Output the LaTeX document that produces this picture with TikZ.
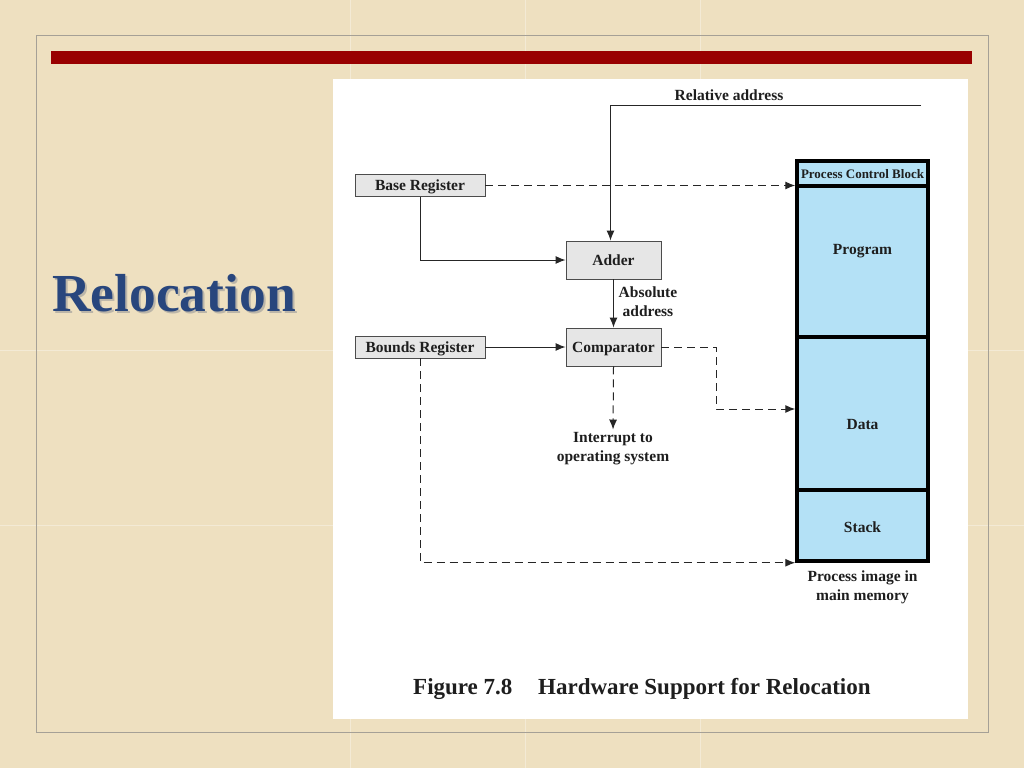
\documentclass[tikz,border=0pt]{standalone}
\usepackage{fontspec}
\setmainfont{Liberation Serif}
\usetikzlibrary{arrows.meta,calc}
\definecolor{parch}{RGB}{238,224,192}
\definecolor{framegray}{RGB}{165,160,150}
\definecolor{barred}{RGB}{153,0,0}
\definecolor{titleblue}{RGB}{40,70,125}
\definecolor{boxgray}{RGB}{230,230,230}
\definecolor{memblue}{RGB}{180,225,246}
\definecolor{ink}{RGB}{30,30,30}
\newcommand{\dfont}{\bfseries\fontsize{15.5}{19}\selectfont}
\tikzset{
  regbox/.style={draw=black!70, fill=boxgray, line width=0.9pt, minimum width=130pt, minimum height=22pt, inner sep=0pt, text depth=0pt, font=\dfont, text=ink},
  unitbox/.style={regbox, minimum width=95pt, minimum height=38pt},
  seg/.style={draw=black, line width=3.5pt, fill=memblue, minimum width=131pt, inner sep=0pt},
  lbl/.style={font=\dfont, text=ink, inner sep=0pt, align=center},
  conn/.style={line width=1pt, draw=black!85, -{Latex[length=10pt,width=8pt]}},
  dconn/.style={conn, dash pattern=on 8pt off 5pt},
}
\begin{document}
\begin{tikzpicture}[x=1pt,y=-1pt]
\useasboundingbox (0,0) rectangle (1024,768);
% background
\fill[parch] (0,0) rectangle (1024,768);
\foreach \xx in {350,525,700} \draw[white,opacity=0.35,line width=1pt] (\xx,0) -- (\xx,768);
\foreach \yy in {350,525} \draw[white,opacity=0.35,line width=1pt] (0,\yy) -- (1024,\yy);
\draw[framegray, line width=1pt] (36,36) rectangle (988,732);
\fill[barred] (51,51) rectangle (972,64);
% title
\node[anchor=base west, inner sep=0pt, text=black!40, opacity=0.6, font=\bfseries\fontsize{53.5}{60}\selectfont] at (54,313) {Relocation};
\node[anchor=base west, inner sep=0pt, text=titleblue, font=\bfseries\fontsize{53.5}{60}\selectfont] (title) at (52,311) {Relocation};
% white panel
\fill[white] (333,79) rectangle (968,719);
% memory column
\node[seg, minimum height=25pt] (pcb) at (862.5,173.5) {};
\node[seg, minimum height=151pt] (prog) at (862.5,261.5) {};
\node[seg, minimum height=153pt] (data) at (862.5,413.5) {};
\node[seg, minimum height=71pt] (stack) at (862.5,525.5) {};
\node[lbl, font=\bfseries\fontsize{13}{15}\selectfont] (pcbt) at (862.5,174) {Process Control Block};
\node[lbl] (progt) at (862.5,251) {Program};
\node[lbl] (datat) at (862.5,424) {Data};
\node[lbl] (stackt) at (862.5,527) {Stack};
\node[lbl] (imgt) at (862.5,587) {Process image in\\main memory};
% boxes
\node[regbox] (base) at (420,185.5) {Base Register};
\node[regbox] (bounds) at (420,347) {Bounds Register};
\node[unitbox] (adder) at (613.5,260) {Adder};
\node[unitbox] (comp) at (613.5,347) {Comparator};
% labels
\node[lbl] (relt) at (729,95) {Relative address};
\node[lbl] (abst) at (648,302) {Absolute\\address};
\node[lbl] (intr) at (613,449) {Interrupt to\\operating system};
% connectors
\coordinate (relend) at (921,105);
\draw[conn] (relend) -| ([xshift=-3pt]adder.north);
\draw[conn] (base.south) |- (adder.west);
\draw[dconn] (base.east) -- (base.east -| pcb.west);
\draw[conn] (adder.south) -- (comp.north);
\draw[conn] (bounds.east) -- (comp.west);
\draw[dconn] (comp.east) -- ++(55,0) |- ([yshift=4.5pt]data.west);
\draw[dconn, shorten >=3pt] (comp.south) -- (intr.north);
\draw[dconn] (bounds.south) |- (stack.south west);
% caption
\node[anchor=base west, inner sep=0pt, text=ink, font=\bfseries\fontsize{23}{27}\selectfont] (capa) at (413,694) {Figure 7.8};
\node[anchor=base west, inner sep=0pt, text=ink, font=\bfseries\fontsize{23}{27}\selectfont] (capb) at (538,694) {Hardware Support for Relocation};
\end{tikzpicture}
\end{document}
